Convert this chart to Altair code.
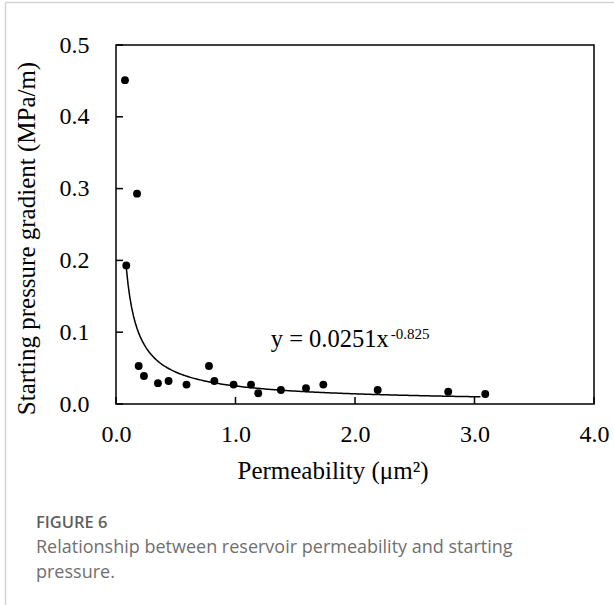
import altair as alt
import numpy as np
import pandas as pd

# Measured permeability (µm²) and starting pressure gradient (MPa/m)
permeability = [0.075, 0.176, 0.086, 0.19, 0.234, 0.351, 0.44, 0.59, 0.778, 0.823,
                0.984, 1.13, 1.19, 1.38, 1.59, 1.735, 2.19, 2.78, 3.09]
gradient = [0.451, 0.293, 0.193, 0.053, 0.039, 0.029, 0.032, 0.027, 0.053, 0.032,
            0.027, 0.027, 0.015, 0.0195, 0.022, 0.027, 0.0195, 0.017, 0.014]

# Power-law fit y = a * x^b
fit_a = 0.0251
fit_b = -0.825
fit_x_min = 0.086
fit_x_max = 3.05

x_ticks = [0, 1, 2, 3, 4]
y_ticks = [0, 0.1, 0.2, 0.3, 0.4, 0.5]

caption_head = "FIGURE 6"
caption_lines = ["Relationship between reservoir permeability and starting", "pressure."]

W, H = 478, 359
PAD_L, PAD_T = 116, 45
SERIF = "Liberation Serif"
SANS = "Open Sans"
TICK = 7

points = pd.DataFrame({"k": permeability, "g": gradient})
fx = np.linspace(fit_x_min, fit_x_max, 200)
fit = pd.DataFrame({"k": fx, "g": fit_a * fx ** fit_b})

x_scale = alt.Scale(domain=[0, 4], nice=False, zero=False)
y_scale = alt.Scale(domain=[0, 0.5], nice=False, zero=False)

x_axis = alt.Axis(
    values=x_ticks, format=".1f", orient="bottom", ticks=False, tickSize=0,
    domain=False, grid=False, labelFlush=False,
    labelFont=SERIF, labelFontSize=24, labelColor="black", labelPadding=18,
    title="Permeability  (μm²)", titleFont=SERIF, titleFontSize=25,
    titleFontWeight="normal", titleColor="black", titleAlign="left",
    titleBaseline="alphabetic", titleX=121, titleY=74,
)
y_axis = alt.Axis(
    values=y_ticks, format=".1f", orient="left", ticks=False, tickSize=0,
    domain=False, grid=False, labelFlush=False,
    labelFont=SERIF, labelFontSize=24, labelColor="black", labelPadding=27,
    title="Starting pressure gradient (MPa/m)", titleFont=SERIF, titleFontSize=25,
    titleFontWeight="normal", titleColor="black", titleAlign="center",
    titleBaseline="alphabetic", titleAngle=270, titleX=-82, titleY=193,
)

curve = alt.Chart(fit).mark_line(color="black", strokeWidth=1.5).encode(
    x=alt.X("k:Q", scale=x_scale, axis=x_axis),
    y=alt.Y("g:Q", scale=y_scale, axis=y_axis),
)

scatter = alt.Chart(points).mark_point(
    filled=True, color="black", size=62, opacity=1
).encode(
    x=alt.X("k:Q", scale=x_scale),
    y=alt.Y("g:Q", scale=y_scale),
)

# Inward-pointing tick marks on the bottom and left edges
tick_len_y = TICK / H * 0.5   # tick length in gradient units
tick_len_x = TICK / W * 4.0   # tick length in permeability units

x_tick_marks = alt.Chart(pd.DataFrame({"k": x_ticks})).mark_rule(
    color="black", strokeWidth=1.5
).encode(
    x=alt.X("k:Q", scale=x_scale),
    y=alt.YDatum(0),
    y2=alt.Y2Datum(tick_len_y),
)

y_tick_marks = alt.Chart(pd.DataFrame({"g": y_ticks})).mark_rule(
    color="black", strokeWidth=1.5
).encode(
    y=alt.Y("g:Q", scale=y_scale),
    x=alt.XDatum(0),
    x2=alt.X2Datum(tick_len_x),
)

eq_main = alt.Chart(pd.DataFrame({"k": [1.295], "g": [0.080], "t": ["y = 0.0251x"]})).mark_text(
    font=SERIF, fontSize=24.5, align="left", baseline="alphabetic", color="black"
).encode(x=alt.X("k:Q", scale=x_scale), y=alt.Y("g:Q", scale=y_scale), text="t:N")

eq_sup = alt.Chart(pd.DataFrame({"k": [2.30], "g": [0.090], "t": ["-0.825"]})).mark_text(
    font=SERIF, fontSize=15, align="left", baseline="alphabetic", color="black"
).encode(x=alt.X("k:Q", scale=x_scale), y=alt.Y("g:Q", scale=y_scale), text="t:N")


def caption_text(text, y_px, size, weight, color):
    return alt.Chart(pd.DataFrame({"t": [text]})).mark_text(
        font=SANS, fontSize=size, fontWeight=weight, align="left",
        baseline="middle", color=color
    ).encode(x=alt.value(36 - PAD_L), y=alt.value(y_px - PAD_T), text="t:N")


# Caption under the chart
cap_head = caption_text(caption_head, 523, 16.5, 600, "#5f5f5f")
cap_line1 = caption_text(caption_lines[0], 548, 18, 400, "#707070")
cap_line2 = caption_text(caption_lines[1], 573, 18, 400, "#707070")

# Thin frame around the figure panel (top and left edges)
frame_top = alt.Chart(pd.DataFrame({"a": [0]})).mark_rule(color="#d4d4d4", strokeWidth=1.5).encode(
    x=alt.value(5.5 - PAD_L), x2=alt.value(614 - PAD_L), y=alt.value(2.5 - PAD_T)
)
frame_left = alt.Chart(pd.DataFrame({"a": [0]})).mark_rule(color="#d4d4d4", strokeWidth=1.5).encode(
    x=alt.value(5.5 - PAD_L), y=alt.value(2.5 - PAD_T), y2=alt.value(605 - PAD_T)
)

chart = alt.layer(
    curve, x_tick_marks, y_tick_marks, scatter, eq_main, eq_sup,
    cap_head, cap_line1, cap_line2, frame_top, frame_left
).properties(
    width=W, height=H,
    autosize=alt.AutoSizeParams(type="none"),
    padding={"left": PAD_L, "top": PAD_T, "right": 614 - PAD_L - W, "bottom": 605 - PAD_T - H},
    background="white",
).configure_view(stroke="black", strokeWidth=1.5)

chart.save("out.html", embed_options={"renderer": "svg", "actions": False})
